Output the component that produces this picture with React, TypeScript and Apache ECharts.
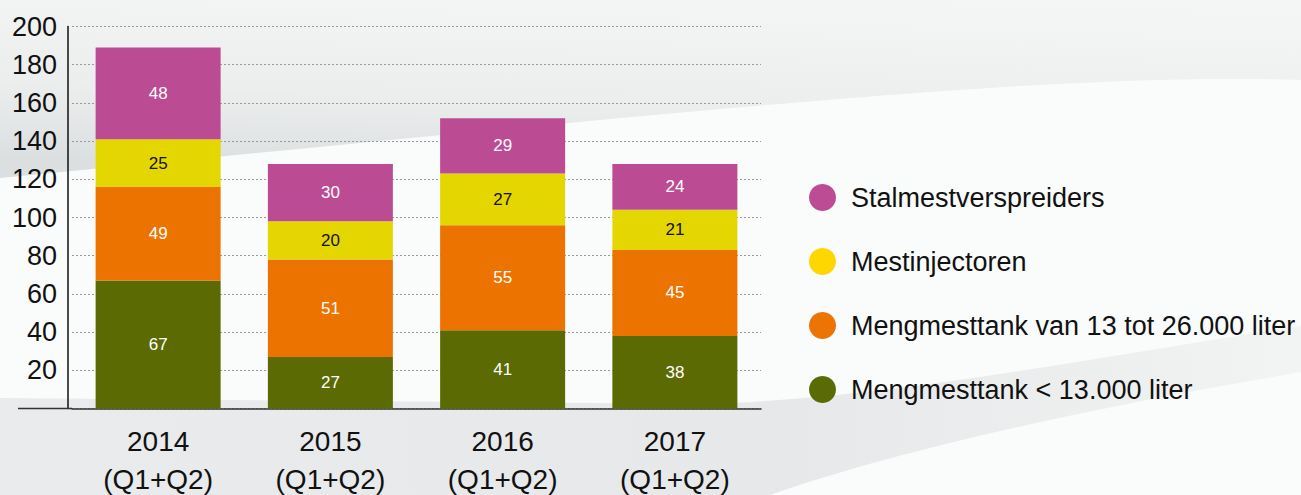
import React, { useEffect, useRef } from "react";
import * as echarts from "echarts";

const categories = ["2014\n(Q1+Q2)", "2015\n(Q1+Q2)", "2016\n(Q1+Q2)", "2017\n(Q1+Q2)"];
const yTicks = [0, 20, 40, 60, 80, 100, 120, 140, 160, 180, 200];
const seriesNames = [
  "Mengmesttank < 13.000 liter",
  "Mengmesttank van 13 tot 26.000 liter",
  "Mestinjectoren",
  "Stalmestverspreiders",
];
const smallTank = [67, 27, 41, 38];
const bigTank = [49, 51, 55, 45];
const injectors = [25, 20, 27, 21];
const spreaders = [48, 30, 29, 24];

const barColors = ["#5b6a03", "#ec7300", "#e4d600", "#bb4c93"];
const legendColors = ["#5a6a04", "#ec7404", "#ffd700", "#bc4c94"];
const labelColors = ["#ffffff", "#ffffff", "#111111", "#ffffff"];

const SANS = "'Liberation Sans', Arial, sans-serif";

echarts.graphic.registerShape(
  "topSwoosh",
  echarts.graphic.extendPath("M0 0 L1301 0 L1301 80 C1050 72 700 110 0 178 Z", {})
);
echarts.graphic.registerShape(
  "bottomSwoosh",
  echarts.graphic.extendPath("M0 398 L700 404 C880 400 1080 360 1301 326 L1301 372 C1080 410 900 450 770 495 L0 495 Z", {})
);

export default function App() {
  const ref = useRef<HTMLDivElement>(null);
  useEffect(() => {
    const chart = echarts.init(ref.current!, undefined, { renderer: "svg" });
    const data = [smallTank, bigTank, injectors, spreaders];
    chart.setOption({
      animation: false,
      backgroundColor: "#fafbfb",
      graphic: [
        {
          type: "topSwoosh",
          z: -10,
          style: {
            fill: new echarts.graphic.LinearGradient(0.7, 0, 0.45, 1, [
              { offset: 0, color: "#f4f5f5" },
              { offset: 0.6, color: "#eceeee" },
              { offset: 1, color: "#dcdfe0" },
            ]),
          },
        },
        {
          type: "bottomSwoosh",
          z: -10,
          style: {
            fill: new echarts.graphic.LinearGradient(0, 0, 1, 0, [
              { offset: 0, color: "#e9ebec" },
              { offset: 0.6, color: "#e6e8e9" },
              { offset: 1, color: "#f2f3f3" },
            ]),
          },
        },
        {
          type: "line",
          z: 10,
          shape: { x1: 18, y1: 408.5, x2: 72, y2: 408.5 },
          style: { stroke: "#333", lineWidth: 1.5 },
        },
      ],
      grid: { left: 72, top: 26.5, width: 689, height: 382, containLabel: false, outerBoundsMode: "none" },
      legend: {
        orient: "vertical",
        left: 804,
        top: 179,
        itemWidth: 27,
        itemHeight: 27,
        itemGap: 37,
        icon: "circle",
        textStyle: { fontFamily: SANS, fontSize: 27, color: "#111", padding: [0, 0, 0, 10] },
        data: [3, 2, 1, 0].map((i) => ({ name: seriesNames[i], itemStyle: { color: legendColors[i] } })),
      },
      xAxis: {
        type: "category",
        data: categories,
        axisLine: { lineStyle: { color: "#333", width: 1.5 } },
        axisTick: { show: false },
        axisLabel: { fontFamily: SANS, fontSize: 28, color: "#111", lineHeight: 38, margin: 14 },
      },
      yAxis: {
        type: "value",
        min: yTicks[0],
        max: yTicks[yTicks.length - 1],
        interval: 20,
        offset: 4,
        axisLine: { show: true, lineStyle: { color: "#111", width: 1.5 } },
        axisTick: { show: false },
        axisLabel: {
          fontFamily: SANS,
          fontSize: 27,
          color: "#111",
          margin: 11,
          formatter: (v: number) => (v === 0 ? "" : String(v)),
        },
        splitLine: { lineStyle: { color: "#999", type: [2, 2], width: 1 } },
      },
      series: data.map((d, i) => ({
        name: seriesNames[i],
        type: "bar",
        stack: "total",
        barWidth: 125,
        data: d,
        itemStyle: { color: barColors[i] },
        label: {
          show: true,
          position: "inside",
          fontFamily: SANS,
          fontSize: 17,
          color: labelColors[i],
        },
      })),
    });
    return () => chart.dispose();
  }, []);
  return <div ref={ref} style={{ position: "fixed", left: 0, top: 0, width: 1301, height: 495 }} />;
}
